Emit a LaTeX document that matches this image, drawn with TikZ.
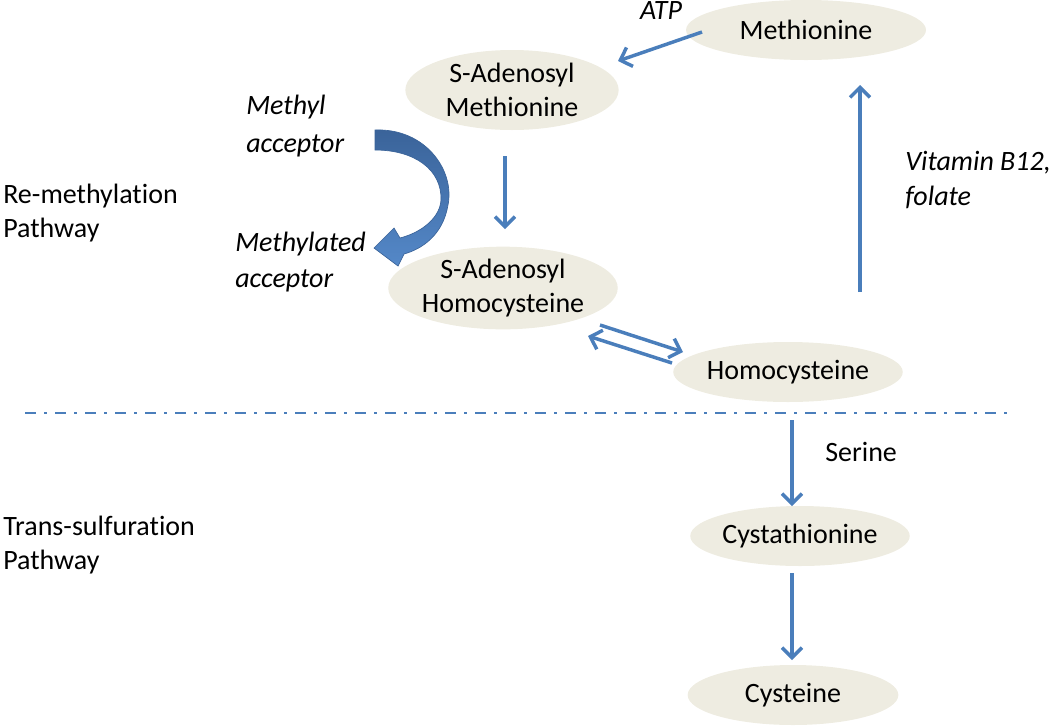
\documentclass[tikz,border=0pt]{standalone}
\usepackage{fontspec}
\setmainfont{Carlito}[Ligatures=NoCommon]
\usetikzlibrary{arrows.meta,shapes.geometric}
\definecolor{tan}{HTML}{EEECE1}
\definecolor{ablue}{HTML}{4A7EBB}
\definecolor{dblue}{HTML}{3A6399}
\definecolor{lblue}{HTML}{5488C8}
\begin{document}
\begin{tikzpicture}[x=0.75pt,y=-0.75pt,
  font=\fontsize{21}{25}\selectfont,
  ell/.style={ellipse,fill=tan,inner sep=0pt,align=center},
  lbl/.style={inner sep=0pt,anchor=west,align=left},
  arr/.style={draw=ablue,line width=2.6pt,-{Straight Barb[length=7.5pt,width=15pt]}}]
\useasboundingbox (0,0) rectangle (1050,726);
% nodes
\node[ell,minimum width=180pt,minimum height=45pt] (met) at (806,30) {Methionine};
\node[ell,minimum width=160pt,minimum height=60pt] (sam) at (512,90) {S-Adenosyl\\Methionine};
\node[ell,minimum width=170pt,minimum height=62pt] (sah) at (503,288) {S-Adenosyl\\Homocysteine};
\node[ell,minimum width=158pt,minimum height=45pt] (hcy) at (788,372) {Homocysteine};
\node[ell,minimum width=158pt,minimum height=45pt] (cth) at (800,536) {Cystathionine};
\node[ell,minimum width=158pt,minimum height=45pt] (cys) at (793,695) {Cysteine};
% labels
\node[inner sep=0pt,font=\fontsize{21}{25}\selectfont\itshape] (atp) at (661,11) {ATP};
\node[lbl,font=\fontsize{21}{28}\selectfont\itshape] (macc) at (246,126) {Methyl\\acceptor};
\node[lbl,font=\fontsize{21}{27}\selectfont\itshape] (mdacc) at (235,262) {Methylated\\acceptor};
\node[lbl] (remeth) at (3,213) {Re-methylation\\Pathway};
\node[lbl,font=\fontsize{21}{26}\selectfont\itshape] (vit) at (905,180) {Vitamin B12,\\folate};
\node[lbl] (ser) at (825,452) {Serine};
\node[lbl] (trans) at (3,545) {Trans-sulfuration\\Pathway};
% separator
\coordinate (sepL) at (25,413);
\coordinate (sepR) at (1010,413);
\draw[ablue,line width=2.2pt,dash pattern=on 8.5pt off 6pt on 2pt off 6pt] (sepL) -- (sepR);
% arrows
\draw[arr] ([shift={(-104,2)}]met.center) -- ([shift={(106,-29)}]sam.center);
\draw[arr] ([shift={(-7,66)}]sam.center) -- ([shift={(2,-59)}]sah.center);
\draw[arr] ([shift={(97,37)}]sah.center) -- ([shift={(-105,-20)}]hcy.center);
\draw[arr] ([shift={(-116,-9)}]hcy.center) -- ([shift={(85,48)}]sah.center);
\draw[arr] ([shift={(72,-80)}]hcy.center) -- ([shift={(54,55)}]met.center);
\draw[arr] ([shift={(4,48)}]hcy.center) -- ([shift={(-8,-30)}]cth.center);
\draw[arr] ([shift={(-8,37)}]cth.center) -- ([shift={(-1,-35)}]cys.center);
% curved block arrow
\path[draw=dblue,line width=0.5pt,top color=dblue,bottom color=lblue]
  (375,130) .. controls (425,128) and (455,170) .. (448,205)
  .. controls (443,235) and (422,249) .. (404,254)
  -- (398,266) -- (374,248) -- (394,228) -- (400,238)
  .. controls (423,232) and (440,217) .. (441,200)
  .. controls (442,170) and (415,150) .. (375,150) -- cycle;
\end{tikzpicture}
\end{document}
